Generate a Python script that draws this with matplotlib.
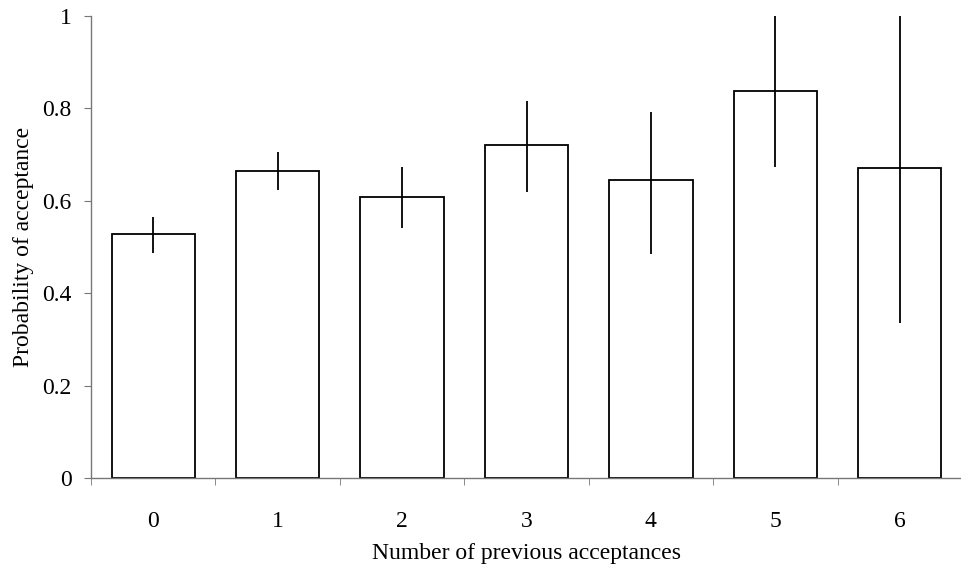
import numpy as np
import matplotlib.pyplot as plt

# datos
acept = [0, 1, 2, 3, 4, 5, 6]
prob = [0.528, 0.665, 0.609, 0.720, 0.644, 0.838, 0.672]
err_inf = [0.487, 0.623, 0.541, 0.620, 0.485, 0.673, 0.335]
err_sup = [0.566, 0.706, 0.674, 0.815, 0.793, 1.0, 1.0]

plt.rcParams['font.family'] = ['Liberation Serif', 'DejaVu Serif']

fig = plt.figure(figsize=(9.62, 5.72), dpi=100)
ax = fig.add_axes([0.0946, 0.1643, 0.9054, 0.8077])

x = np.array(acept)
p = np.array(prob)
yerr = [p - np.array(err_inf), np.array(err_sup) - p]

ax.bar(x, p, width=0.67, color='white', edgecolor='black', linewidth=1.3, zorder=2)
ax.errorbar(x, p, yerr=yerr, fmt='none', ecolor='black', elinewidth=1.3,
            capsize=0, zorder=3)

ax.set_xlim(-0.5, 6.5)
ax.set_ylim(0, 1)
ax.set_yticks([0, 0.2, 0.4, 0.6, 0.8, 1])
ax.set_yticklabels(['0', '0.2', '0.4', '0.6', '0.8', '1'])
ax.set_xticks(x)
ax.set_xticks(np.arange(-0.5, 6.0, 1.0), minor=True)
ax.tick_params(axis='x', which='major', length=0, pad=24, labelsize=17)
ax.tick_params(axis='x', which='minor', length=5, direction='out', color='#777777')
ax.tick_params(axis='y', length=5, direction='out', color='#777777', labelsize=17, pad=9)

for s in ['top', 'right']:
    ax.spines[s].set_visible(False)
for s in ['left', 'bottom']:
    ax.spines[s].set_color('#777777')
    ax.spines[s].set_linewidth(1.0)

ax.set_xlabel('Number of previous acceptances', fontsize=17, labelpad=8)
ax.set_ylabel('Probability of acceptance', fontsize=17, labelpad=6)

fig.savefig('out.png', dpi=100)
